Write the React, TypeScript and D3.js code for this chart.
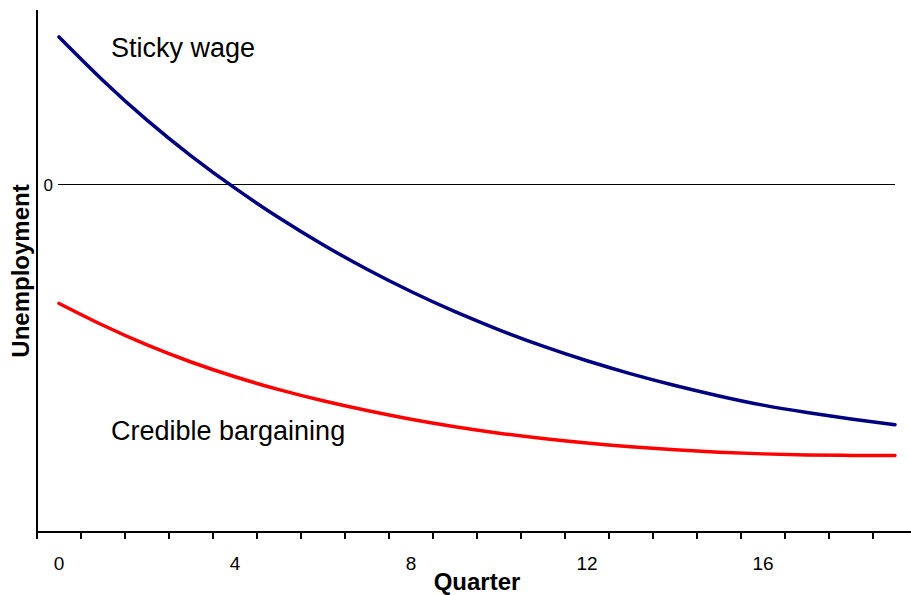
import React from "react";
import * as d3 from "d3";

const quarters = [0, 1, 2, 3, 4, 5, 6, 7, 8, 9, 10, 11, 12, 13, 14, 15, 16, 17, 18, 19];
const stickyWage = [0.845, 0.595, 0.367, 0.162, -0.024, -0.194, -0.349, -0.49, -0.618, -0.734, -0.838, -0.932, -1.016, -1.091, -1.158, -1.218, -1.271, -1.313, -1.35, -1.383];
const credibleBargaining = [-0.686, -0.812, -0.925, -1.023, -1.108, -1.182, -1.246, -1.302, -1.352, -1.395, -1.432, -1.463, -1.489, -1.51, -1.527, -1.541, -1.551, -1.557, -1.56, -1.561];
const xTickLabels = [0, 4, 8, 12, 16];
const minorTicks = [-0.5, 0.5, 1.5, 2.5, 3.5, 4.5, 5.5, 6.5, 7.5, 8.5, 9.5, 10.5, 11.5, 12.5, 13.5, 14.5, 15.5, 16.5, 17.5, 18.5];
const yTickLabels = [0];

const W = 911;
const H = 595;
const FONT = "'Liberation Sans', Arial, Helvetica, sans-serif";

export default function App() {
  const x = d3.scaleLinear().domain([-0.5, 19.5]).range([37, 917]);
  const y = d3.scaleLinear().domain([-2, 1]).range([532, 10]);

  const line = d3
    .line<number>()
    .x((_, i) => x(quarters[i]))
    .y((d) => y(d))
    .curve(d3.curveNatural);

  const x0 = x(-0.5);
  const yBase = y(-2);

  return (
    <svg
      width={W}
      height={H}
      style={{ position: "absolute", left: 0, top: 0, display: "block", background: "#fff" }}
      fontFamily={FONT}
    >
      {/* zero line */}
      {yTickLabels.map((v) => (
        <g key={v}>
          <line x1={x(0) - 1} x2={x(19)} y1={y(v) + 0.5} y2={y(v) + 0.5} stroke="#000" strokeWidth={1} />
          <text x={x0 + 16} y={y(v) + 7} fontSize={17} textAnchor="end" fill="#000">
            {v}
          </text>
        </g>
      ))}

      {/* curves */}
      <path d={line(credibleBargaining) || ""} fill="none" stroke="#ff0000" strokeWidth={3.5} strokeLinecap="round" />
      <path d={line(stickyWage) || ""} fill="none" stroke="#000080" strokeWidth={3.5} strokeLinecap="round" />

      {/* axes */}
      <line x1={x0} x2={x0} y1={y(1)} y2={yBase + 1} stroke="#000" strokeWidth={2} />
      <line x1={x0 - 1} x2={W} y1={yBase} y2={yBase} stroke="#000" strokeWidth={2} />
      {minorTicks.map((t) => (
        <line key={t} x1={x(t)} x2={x(t)} y1={yBase} y2={yBase + 7} stroke="#000" strokeWidth={2} />
      ))}
      {xTickLabels.map((t) => (
        <text key={t} x={x(t)} y={570} fontSize={19} textAnchor="middle" fill="#000">
          {t}
        </text>
      ))}

      {/* axis titles */}
      <text x={477} y={590} fontSize={24} fontWeight="bold" textAnchor="middle" fill="#000">
        Quarter
      </text>
      <text
        transform={`translate(29, ${(y(1) + yBase) / 2}) rotate(-90)`}
        fontSize={24}
        fontWeight="bold"
        textAnchor="middle"
        fill="#000"
      >
        Unemployment
      </text>

      {/* series labels */}
      <text x={111} y={57} fontSize={27} fill="#000">
        Sticky wage
      </text>
      <text x={111} y={440} fontSize={27} fill="#000">
        Credible bargaining
      </text>
    </svg>
  );
}
